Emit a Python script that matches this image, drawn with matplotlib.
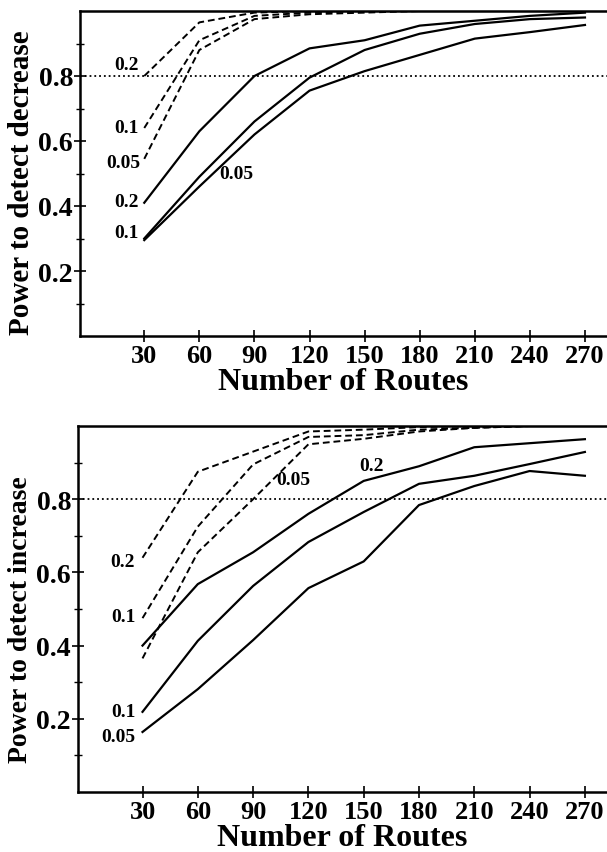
"""Power curves: number of routes needed to detect decrease / increase."""

import matplotlib

matplotlib.use("Agg")
import matplotlib.pyplot as plt
from matplotlib.ticker import FixedLocator

plt.rcParams["font.family"] = ["Liberation Serif", "DejaVu Serif"]
plt.rcParams["font.weight"] = "bold"
plt.rcParams["axes.labelweight"] = "bold"

routes = [30, 60, 90, 120, 150, 180, 210, 240, 270]

# top panel: power to detect decrease
dec_dash_02 = [0.80, 0.965, 0.995, 1.0, 1.0, 1.0, 1.0, 1.0, 1.0]
dec_dash_01 = [0.64, 0.91, 0.985, 0.995, 1.0, 1.0, 1.0, 1.0, 1.0]
dec_dash_005 = [0.545, 0.88, 0.975, 0.99, 0.995, 1.0, 1.0, 1.0, 1.0]
dec_solid_02 = [0.41, 0.63, 0.80, 0.885, 0.91, 0.955, 0.97, 0.985, 0.995]
dec_solid_01 = [0.30, 0.49, 0.66, 0.795, 0.88, 0.93, 0.96, 0.975, 0.98]
dec_solid_005 = [0.295, 0.46, 0.62, 0.755, 0.815, 0.865, 0.915, 0.935, 0.957]

# bottom panel: power to detect increase
inc_dash_02 = [0.64, 0.875, 0.93, 0.985, 0.99, 0.997, 1.0, 1.0, 1.0]
inc_dash_01 = [0.475, 0.725, 0.895, 0.97, 0.975, 0.99, 0.995, 1.0, 1.0]
inc_dash_005 = [0.365, 0.655, 0.80, 0.95, 0.965, 0.985, 0.995, 1.0, 1.0]
inc_solid_02 = [0.40, 0.568, 0.655, 0.76, 0.85, 0.89, 0.942, 0.953, 0.964]
inc_solid_01 = [0.219, 0.413, 0.563, 0.683, 0.765, 0.842, 0.864, 0.896, 0.929]
inc_solid_005 = [0.164, 0.281, 0.415, 0.557, 0.63, 0.784, 0.836, 0.877, 0.864]

y_major = [0.2, 0.4, 0.6, 0.8]
y_major_labels = ["0.2", "0.4", "0.6", "0.8"]
y_minor = [0.1, 0.3, 0.5, 0.7, 0.9]

# curve labels: (text, x, y)
dec_labels = [
    ("0.2", 27, 0.835),
    ("0.1", 27, 0.643),
    ("0.05", 28, 0.535),
    ("0.2", 27, 0.415),
    ("0.1", 27, 0.32),
]
inc_labels = [
    ("0.2", 26, 0.63),
    ("0.1", 26, 0.48),
    ("0.1", 26, 0.22),
    ("0.05", 26, 0.153),
]

DASH = (0, (3.5, 2.0))


def style_axes(ax, ylabel, ylabel_size):
    ax.set_xlim(-5, 282)
    ax.set_ylim(0, 1.0)
    ax.xaxis.set_major_locator(FixedLocator(routes))
    ax.set_xticklabels([str(r) for r in routes])
    ax.yaxis.set_major_locator(FixedLocator(y_major))
    ax.set_yticklabels(y_major_labels)
    ax.yaxis.set_minor_locator(FixedLocator(y_minor))
    ax.tick_params(axis="x", direction="inout", length=8, width=1.2,
                   labelsize=19, pad=2)
    ax.tick_params(axis="y", which="major", direction="inout", length=8,
                   width=1.2, labelsize=20, pad=1)
    ax.tick_params(axis="y", which="minor", direction="inout", length=6,
                   width=1.0)
    for side in ("left", "bottom", "top"):
        ax.spines[side].set_linewidth(1.8)
    ax.spines["right"].set_visible(False)
    ax.set_xlabel("Number of Routes", fontsize=23, labelpad=0)
    ax.set_ylabel(ylabel, fontsize=ylabel_size)
    ax.yaxis.set_label_coords(-0.085, 0.474)
    ax.axhline(0.8, color="black", linestyle=":", linewidth=1.3)


fig = plt.figure(figsize=(6.07, 8.53), dpi=100)

ax_top = fig.add_axes([80 / 607, 1 - 337 / 853, 527 / 607, 325 / 853])
for series in (dec_dash_02, dec_dash_01, dec_dash_005):
    ax_top.plot(routes, series, color="black", linestyle=DASH, linewidth=1.4)
for series in (dec_solid_02, dec_solid_01, dec_solid_005):
    ax_top.plot(routes, series, color="black", linewidth=1.6)
for text, x, y in dec_labels:
    ax_top.text(x, y, text, ha="right", va="center", fontsize=14)
ax_top.text(80, 0.50, "0.05", ha="center", va="center", fontsize=14)
style_axes(ax_top, "Power to detect decrease", 21)

ax_bot = fig.add_axes([78 / 607, 1 - 793 / 853, 529 / 607, 366 / 853])
for series in (inc_dash_02, inc_dash_01, inc_dash_005):
    ax_bot.plot(routes, series, color="black", linestyle=DASH, linewidth=1.4)
for series in (inc_solid_02, inc_solid_01, inc_solid_005):
    ax_bot.plot(routes, series, color="black", linewidth=1.6)
for text, x, y in inc_labels:
    ax_bot.text(x, y, text, ha="right", va="center", fontsize=14)
ax_bot.text(112, 0.855, "0.05", ha="center", va="center", fontsize=14)
ax_bot.text(154, 0.893, "0.2", ha="center", va="center", fontsize=14)
style_axes(ax_bot, "Power to detect increase", 20)

fig.savefig("out.png", dpi=100)
